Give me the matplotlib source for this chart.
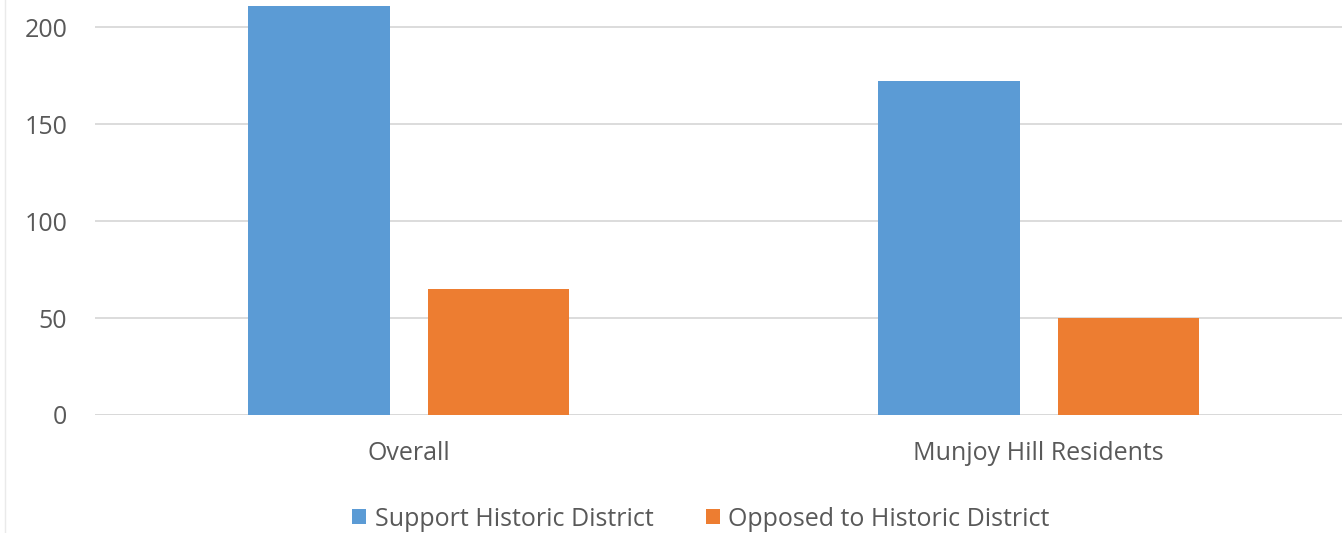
import matplotlib
matplotlib.use('Agg')
import matplotlib.pyplot as plt
from matplotlib.lines import Line2D
import numpy as np

categories = ['Overall', 'Munjoy Hill Residents']
support = [211, 172]
opposed = [65, 50]
series_names = ['Support Historic District', 'Opposed to Historic District']
yticks = [0, 50, 100, 150, 200]

plt.rcParams['font.family'] = ['Open Sans', 'DejaVu Sans']

W, H = 1342, 533
fig = plt.figure(figsize=(W / 100., H / 100.), dpi=100)
ax = fig.add_axes([95. / W, 118. / H, 1 - 95. / W, 1 - 118. / H])

x = np.arange(len(categories))
bw = 0.225
off = 0.1425
ax.bar(x - off, support, bw, color='#5B9BD5', label=series_names[0], zorder=3)
ax.bar(x + off, opposed, bw, color='#ED7D31', label=series_names[1], zorder=3)

ax.set_xlim((95 - 408.75) / 630., (1342 - 408.75) / 630.)
ax.set_ylim(0, 214)
ax.set_yticks(yticks)
ax.set_xticks(x)
ax.set_xticklabels(categories)
ax.grid(axis='y', color='#D9D9D9', linewidth=1.3, zorder=0)
for s in ax.spines.values():
	s.set_visible(False)
ax.axhline(0, color='#D9D9D9', linewidth=1.3, zorder=2)
ax.tick_params(axis='both', length=0, labelsize=18, labelcolor='#595959')
ax.tick_params(axis='y', pad=20)
ax.tick_params(axis='x', pad=19)

leg = fig.legend(loc='center', bbox_to_anchor=(701. / W, 1 - 519. / H), ncol=2,
	frameon=False, fontsize=18, handlelength=0.55, handleheight=0.55,
	handletextpad=0.35, columnspacing=2.1)
for t in leg.get_texts():
	t.set_color('#595959')

fig.add_artist(Line2D([5. / W, 5. / W], [0, 1], color='#EAEAEA', linewidth=1))

fig.savefig('out.png', dpi=100)
